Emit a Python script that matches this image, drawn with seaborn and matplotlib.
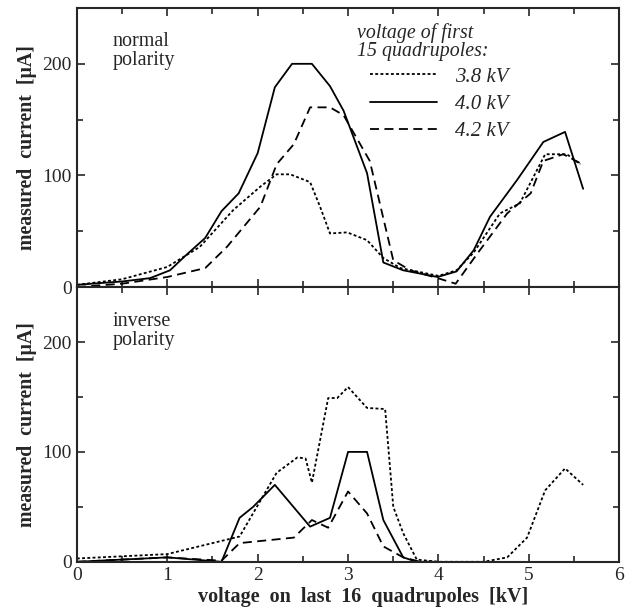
import seaborn as sns
import matplotlib.pyplot as plt
import pandas as pd
from matplotlib.ticker import MultipleLocator

# normale Polarität (oben)
top_x_38 = [0, 0.5, 1.0, 1.36, 1.73, 2.03, 2.21, 2.36, 2.58, 2.69, 2.8, 2.99, 3.21, 3.39, 3.58, 4.0, 4.2, 4.39, 4.68, 4.9, 5.18, 5.42, 5.57]
top_y_38 = [2, 7, 18, 36, 69, 90, 101, 101, 94, 72, 48, 49, 42, 26, 17, 10, 15, 31, 66, 75, 119, 119, 110]
top_x_40 = [0, 0.5, 0.81, 1.03, 1.2, 1.42, 1.6, 1.79, 2.0, 2.19, 2.38, 2.6, 2.8, 2.95, 3.21, 3.39, 3.61, 3.99, 4.2, 4.39, 4.57, 4.87, 5.16, 5.4, 5.6]
top_y_40 = [2, 5, 8, 15, 28, 44, 68, 84, 120, 179, 200, 200, 180, 158, 102, 22, 15, 9, 14, 33, 63, 96, 130, 139, 88]
top_x_42 = [0, 0.5, 1.0, 1.42, 1.66, 2.03, 2.21, 2.4, 2.58, 2.8, 2.95, 3.24, 3.5, 3.69, 3.99, 4.19, 4.43, 4.76, 5.02, 5.16, 5.38, 5.59]
top_y_42 = [0, 3, 9, 17, 36, 72, 110, 128, 161, 161, 154, 113, 24, 15, 8, 3, 30, 66, 84, 113, 119, 110]

# inverse Polarität (unten)
bot_x_38 = [0, 1.0, 1.8, 2.21, 2.44, 2.53, 2.6, 2.78, 2.88, 3.0, 3.21, 3.41, 3.5, 3.61, 3.76, 4.0, 4.5, 4.76, 4.98, 5.18, 5.4, 5.6]
bot_y_38 = [3, 7, 23, 81, 95, 94, 72, 149, 149, 159, 140, 139, 50, 26, 2, 0, 0, 4, 22, 65, 85, 70]
bot_x_40 = [0, 1.0, 1.6, 1.8, 1.95, 2.19, 2.58, 2.8, 3.0, 3.21, 3.39, 3.61, 3.76, 4.0]
bot_y_40 = [0, 4, 0, 40, 50, 70, 32, 40, 100, 100, 38, 4, 0, 0]
bot_x_42 = [0, 1.0, 1.6, 1.8, 2.4, 2.6, 2.78, 3.0, 3.21, 3.39, 3.61, 3.8, 4.0]
bot_y_42 = [0, 4, 1, 17, 22, 38, 31, 64, 44, 14, 4, 0, 0]

labels = ['3.8 kV', '4.0 kV', '4.2 kV']
dashes = {'3.8 kV': (1.6, 1.3), '4.0 kV': '', '4.2 kV': (5, 3)}


def make_df(xs, ys):
    parts = []
    for lab, x, y in zip(labels, xs, ys):
        parts.append(pd.DataFrame({'x': x, 'y': y, 'series': lab}))
    return pd.concat(parts, ignore_index=True)


df_top = make_df([top_x_38, top_x_40, top_x_42], [top_y_38, top_y_40, top_y_42])
df_bot = make_df([bot_x_38, bot_x_40, bot_x_42], [bot_y_38, bot_y_40, bot_y_42])

sns.set_style('ticks')
plt.rcParams['font.family'] = ['Liberation Serif', 'DejaVu Serif']

fig = plt.figure(figsize=(6.3, 6.16), dpi=100)
ax1 = fig.add_axes([0.122, 0.534, 0.861, 0.453])
ax2 = fig.add_axes([0.122, 0.088, 0.861, 0.446], sharex=ax1)

for ax, df in [(ax1, df_top), (ax2, df_bot)]:
    sns.lineplot(data=df, x='x', y='y', style='series', dashes=dashes,
                 color='black', linewidth=1.3, estimator=None, sort=False,
                 legend=(ax is ax1), ax=ax)
    ax.set_xlim(0, 6)
    ax.set_ylim(0, 250)
    ax.set_yticks([0, 100, 200])
    ax.yaxis.set_minor_locator(MultipleLocator(50))
    ax.xaxis.set_minor_locator(MultipleLocator(0.5))
    ax.tick_params(which='both', direction='in', top=True, right=True, width=1.2)
    ax.tick_params(which='major', length=6, labelsize=14)
    ax.tick_params(which='minor', length=4)
    for s in ax.spines.values():
        s.set_linewidth(1.5)
    ax.set_ylabel('measured  current  [μA]', fontsize=14.3, fontweight='bold', labelpad=4)
    ax.set_xlabel('')

ax1.tick_params(labelbottom=False)
ax2.set_xlabel('voltage  on  last  16  quadrupoles  [kV]', fontsize=14.5, fontweight='bold')
ax2.xaxis.set_label_coords(0.528, -0.09)

ax1.text(0.066, 0.915, 'normal\npolarity', transform=ax1.transAxes, va='top', fontsize=14.5, linespacing=1.0)
ax2.text(0.066, 0.91, 'inverse\npolarity', transform=ax2.transAxes, va='top', fontsize=14.5, linespacing=1.0)

# Legendentitel separat, Einträge etwas eingerückt
ax1.text(0.517, 0.946, 'voltage of first\n15 quadrupoles:', transform=ax1.transAxes,
         va='top', ha='left', fontsize=14.3, style='italic', linespacing=0.92)
leg = ax1.legend(loc='upper left', bbox_to_anchor=(0.541, 0.788), frameon=False,
                 prop={'style': 'italic', 'size': 15}, handlelength=3.2,
                 handletextpad=0.85, labelspacing=0.36, borderpad=0, borderaxespad=0)

fig.savefig('out.png', dpi=100)
